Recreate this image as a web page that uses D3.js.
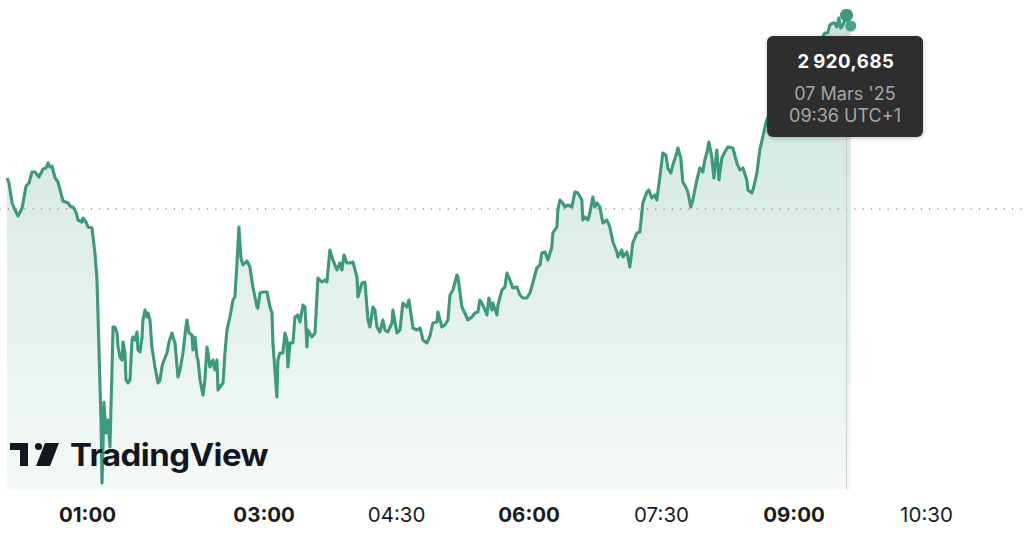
<!DOCTYPE html>
<html>
<head>
<meta charset="utf-8">
<script src="https://cdn.jsdelivr.net/npm/d3@7"></script>
<style>
  html, body { margin: 0; padding: 0; background: #fff; overflow: hidden; }
  svg { display: block; font-family: Inter, "Noto Sans", sans-serif; }
</style>
</head>
<body>
<svg id="chart" width="1024" height="541"></svg>
<script>
// minutes since 00:00 on 07 Mar 2025 (UTC+1)
const minutes = [
  5.7, 7.0, 9.1, 11.1, 13.1, 15.9, 18.6, 20.6, 22.6, 24.7,
  27.4, 30.1, 32.2, 33.5, 34.9, 36.2, 38.3, 40.3, 41.7, 43.7,
  47.1, 49.1, 50.5, 52.5, 53.9, 56.6, 57.3, 59.3, 60.7, 63.4,
  64.1, 65.4, 66.8, 68.2, 69.5, 70.2, 70.9, 71.5, 72.9, 74.3,
  75.6, 77.7, 79.0, 80.4, 81.1, 82.4, 83.8, 84.5, 85.8, 86.5,
  87.8, 89.2, 90.6, 91.2, 92.6, 94.0, 94.6, 96.0, 97.4, 98.0,
  99.4, 100.8, 101.4, 102.8, 104.1, 106.2, 108.2, 109.6, 110.9, 111.6,
  114.3, 115.7, 117.7, 118.4, 119.8, 121.8, 123.2, 125.2, 127.2, 127.9,
  129.3, 131.3, 132.0, 133.4, 134.7, 135.4, 136.8, 138.8, 140.1, 141.5,
  142.2, 143.5, 145.6, 146.9, 148.3, 149.0, 150.3, 152.4, 153.7, 155.1,
  157.1, 159.2, 160.5, 161.9, 163.2, 164.6, 166.0, 168.7, 170.7, 172.7,
  175.5, 176.1, 177.5, 179.5, 182.3, 184.3, 185.7, 186.3, 189.0, 189.7,
  191.1, 193.1, 194.5, 195.8, 196.5, 197.9, 199.9, 201.3, 203.3, 204.7,
  206.7, 208.1, 209.4, 210.1, 212.8, 214.9, 216.9, 219.6, 221.7, 223.0,
  225.0, 227.1, 229.8, 231.8, 233.2, 234.6, 236.6, 238.6, 240.7, 243.4,
  244.1, 246.8, 248.8, 250.9, 252.2, 254.3, 255.6, 257.0, 259.0, 261.0,
  262.4, 264.4, 267.2, 267.8, 270.6, 272.6, 274.6, 277.3, 278.7, 280.7,
  281.4, 284.1, 286.2, 287.5, 288.2, 290.9, 293.0, 295.0, 297.7, 298.4,
  301.1, 303.2, 305.2, 306.6, 308.6, 311.3, 312.0, 314.7, 316.7, 318.8,
  321.5, 323.5, 325.6, 326.9, 329.0, 331.7, 333.0, 335.1, 335.8, 338.5,
  339.2, 341.9, 343.9, 345.3, 347.3, 349.3, 352.1, 354.1, 356.1, 358.8,
  360.9, 362.9, 365.6, 367.7, 369.0, 371.1, 373.1, 375.8, 376.5, 379.2,
  379.9, 381.3, 383.3, 384.7, 386.7, 389.4, 391.5, 393.5, 396.2, 396.9,
  398.2, 400.3, 401.6, 403.7, 405.0, 406.4, 408.4, 410.5, 413.2, 415.2,
  417.3, 420.0, 420.7, 423.4, 424.1, 426.8, 428.8, 430.8, 433.6, 435.6,
  437.6, 440.4, 441.7, 443.7, 445.8, 447.1, 449.2, 451.2, 453.3, 454.6,
  456.7, 458.0, 460.7, 461.4, 463.4, 464.8, 466.8, 468.2, 470.2, 471.6,
  474.3, 476.4, 478.4, 479.7, 481.1, 482.5, 484.5, 485.9, 487.9, 489.3,
  491.3, 493.3, 495.4, 498.8, 501.5, 503.5, 505.6, 508.3, 509.0, 511.7,
  513.0, 515.1, 517.1, 519.1, 521.2, 523.9, 527.3, 530.7, 534.8, 538.8,
  542.9, 547.0, 551.1, 555.1, 559.2, 561.3, 563.3, 564.6, 566.7, 568.0,
  569.4, 570.8, 572.1, 573.5, 576.0, 577.4, 578.9
];

const prices = [
  2904.4, 2903.9, 2901.9, 2901.2, 2900.6, 2901.4, 2903.6, 2903.9, 2905.0, 2905.0,
  2904.5, 2905.3, 2905.4, 2905.9, 2905.5, 2905.6, 2904.4, 2904.0, 2903.2, 2902.1,
  2901.9, 2901.5, 2901.5, 2901.0, 2900.2, 2900.0, 2900.4, 2900.0, 2899.5, 2899.4,
  2898.5, 2896.9, 2894.2, 2886.9, 2880.2, 2873.9, 2877.5, 2882.0, 2878.9, 2880.2,
  2877.5, 2889.5, 2889.5, 2888.9, 2887.5, 2886.5, 2886.2, 2888.0, 2886.9, 2884.2,
  2883.9, 2884.2, 2888.2, 2888.5, 2888.2, 2889.0, 2887.2, 2887.0, 2888.5, 2890.2,
  2891.2, 2890.5, 2890.9, 2890.2, 2887.5, 2885.5, 2883.9, 2884.2, 2885.5, 2885.9,
  2886.9, 2888.0, 2888.9, 2888.5, 2887.9, 2884.5, 2885.2, 2886.9, 2889.5, 2890.2,
  2888.9, 2888.7, 2887.2, 2888.5, 2886.5, 2886.2, 2884.2, 2882.7, 2884.2, 2887.5,
  2886.9, 2885.5, 2886.2, 2885.2, 2886.2, 2883.2, 2883.5, 2883.9, 2886.9, 2889.2,
  2890.5, 2892.2, 2892.5, 2895.9, 2899.5, 2896.4, 2895.7, 2896.1, 2895.5, 2893.5,
  2891.5, 2891.4, 2892.9, 2893.0, 2893.0, 2891.5, 2890.9, 2887.9, 2882.5, 2886.2,
  2886.9, 2886.9, 2888.9, 2888.2, 2885.5, 2887.9, 2887.9, 2890.5, 2890.7, 2890.0,
  2891.7, 2891.5, 2887.5, 2889.2, 2888.5, 2888.9, 2894.4, 2894.0, 2894.2, 2894.0,
  2897.2, 2896.2, 2895.2, 2895.9, 2895.2, 2896.7, 2895.9, 2895.9, 2896.0, 2894.5,
  2892.5, 2893.9, 2894.0, 2890.2, 2889.5, 2891.5, 2891.2, 2889.5, 2889.0, 2890.2,
  2889.2, 2889.0, 2889.9, 2891.2, 2888.9, 2889.2, 2891.9, 2891.5, 2892.2, 2890.2,
  2889.4, 2889.2, 2889.4, 2888.7, 2888.2, 2887.9, 2888.6, 2889.9, 2890.0, 2891.0,
  2889.5, 2889.7, 2890.2, 2892.7, 2893.2, 2894.7, 2894.5, 2891.5, 2890.9, 2890.2,
  2890.5, 2890.9, 2891.0, 2892.2, 2891.7, 2890.7, 2892.4, 2891.2, 2891.9, 2890.7,
  2891.7, 2893.2, 2893.5, 2894.9, 2894.2, 2893.4, 2893.5, 2892.7, 2892.4, 2892.4,
  2892.9, 2893.9, 2895.4, 2895.7, 2896.9, 2897.0, 2896.2, 2897.5, 2898.9, 2899.5,
  2901.2, 2902.2, 2901.9, 2901.5, 2901.7, 2901.5, 2903.0, 2902.9, 2902.2, 2900.2,
  2900.5, 2900.2, 2900.9, 2902.5, 2901.5, 2901.9, 2901.5, 2899.9, 2900.2, 2899.5,
  2898.0, 2897.0, 2896.5, 2897.2, 2896.5, 2897.0, 2895.5, 2897.9, 2898.9, 2899.0,
  2901.9, 2903.0, 2903.2, 2902.4, 2902.7, 2902.2, 2904.5, 2906.9, 2906.7, 2905.4,
  2904.9, 2905.7, 2906.9, 2907.4, 2906.4, 2904.0, 2903.5, 2903.0, 2901.5, 2902.2,
  2904.2, 2905.4, 2905.0, 2906.2, 2906.9, 2908.0, 2906.5, 2904.4, 2907.2, 2904.2,
  2906.4, 2907.0, 2907.5, 2907.4, 2905.9, 2905.2, 2905.4, 2904.2, 2903.2, 2902.9,
  2903.5, 2904.9, 2907.2, 2908.5, 2909.9, 2911.0, 2912.2, 2913.0, 2913.7, 2914.4,
  2915.2, 2916.2, 2917.0, 2917.7, 2918.4, 2918.9, 2918.9, 2919.7, 2919.9, 2919.9,
  2919.5, 2920.4, 2919.4, 2919.7, 2920.685, 2920.0, 2919.6
];

const prevClose = 2901.3;
const tickLabels = ["01:00", "03:00", "04:30", "06:00", "07:30", "09:00", "10:30"];

const hoverTime = "09:36";
const hoverValue = 2920.685;
const tooltipLines = ["2\u2009920,685", "07 Mars '25", "09:36 UTC+1"];

const lineColor = "#3d997e";
const width = 1024, height = 541;
const plotBottom = 490;

const day = new Date(2025, 2, 7);
const toDate = (m) => new Date(day.getTime() + m * 60000);
const parseHM = (s) => {
    const [h, mm] = s.split(":").map(Number);
    return toDate(h * 60 + mm);
};

const data = minutes.map((m, i) => ({ t: toDate(m), v: prices[i] }));

const svg = d3.select("#chart");

// Scales
const xScale = d3.scaleTime()
    .domain([parseHM("01:00"), parseHM("10:30")])
    .range([87, 926]);

const yScale = d3.scaleLinear()
    .domain([2872.2, 2922.2])
    .range([500, 0]);

// Area gradient
const defs = svg.append("defs");
const grad = defs.append("linearGradient")
    .attr("id", "areaFill")
    .attr("gradientUnits", "userSpaceOnUse")
    .attr("x1", 0).attr("y1", 0)
    .attr("x2", 0).attr("y2", plotBottom);
grad.append("stop").attr("offset", "0%").attr("stop-color", lineColor).attr("stop-opacity", 0.28);
grad.append("stop").attr("offset", "100%").attr("stop-color", lineColor).attr("stop-opacity", 0.05);

const shadow = defs.append("filter").attr("id", "tipShadow")
    .attr("x", "-20%").attr("y", "-20%").attr("width", "140%").attr("height", "150%");
shadow.append("feDropShadow")
    .attr("dx", 0).attr("dy", 1).attr("stdDeviation", 2)
    .attr("flood-color", "#000").attr("flood-opacity", 0.25);

const area = d3.area()
    .x((d) => xScale(d.t))
    .y0(plotBottom)
    .y1((d) => yScale(d.v));

const line = d3.line()
    .x((d) => xScale(d.t))
    .y((d) => yScale(d.v));

svg.append("path")
    .datum(data)
    .attr("d", area)
    .attr("fill", "url(#areaFill)");

// Previous close dotted line
svg.append("line")
    .attr("x1", 0).attr("x2", width)
    .attr("y1", yScale(prevClose)).attr("y2", yScale(prevClose))
    .attr("stroke", "#8a8a8a")
    .attr("stroke-width", 1.4)
    .attr("stroke-linecap", "round")
    .attr("stroke-dasharray", "0.1,8.2");

// Price line
svg.append("path")
    .datum(data)
    .attr("d", line)
    .attr("fill", "none")
    .attr("stroke", lineColor)
    .attr("stroke-width", 3.1)
    .attr("stroke-linejoin", "round");

// Crosshair
const hx = xScale(parseHM(hoverTime));
svg.append("line")
    .attr("x1", hx).attr("x2", hx)
    .attr("y1", yScale(hoverValue)).attr("y2", plotBottom)
    .attr("stroke", "#c9cccb")
    .attr("stroke-width", 1);

// X axis
const xAxis = d3.axisBottom(xScale)
    .tickValues(tickLabels.map(parseHM))
    .tickFormat(d3.timeFormat("%H:%M"))
    .tickSize(0)
    .tickPadding(0);

const gx = svg.append("g")
    .attr("transform", `translate(0, 522)`)
    .call(xAxis);
gx.select(".domain").remove();
gx.selectAll("text")
    .attr("dy", null)
    .attr("y", 0)
    .attr("fill", "#1b1b1b")
    .style("font-family", "Inter, 'Noto Sans', sans-serif")
    .style("font-size", "20.5px")
    .style("font-weight", (d) => d.getMinutes() === 0 ? 700 : 400);

// TradingView logo
const logo = svg.append("g").attr("fill", "#131722");
logo.append("path").attr("d", "M10,443 H28 V466 H20 V450 H10 Z");
logo.append("circle").attr("cx", 38.5).attr("cy", 446.5).attr("r", 3.6);
logo.append("path").attr("d", "M45,443 H59 L50,466 H36 Z");
logo.append("text")
    .attr("x", 70).attr("y", 466)
    .attr("textLength", 198)
    .attr("lengthAdjust", "spacingAndGlyphs")
    .style("font-family", "Inter, 'Noto Sans', sans-serif")
    .style("font-size", "31px")
    .style("font-weight", 700)
    .style("letter-spacing", "-0.5px")
    .text("TradingView");

// Tooltip
const tip = svg.append("g");
tip.append("rect")
    .attr("x", 767).attr("y", 36)
    .attr("width", 156).attr("height", 101)
    .attr("rx", 6)
    .attr("fill", "#2f2f2f")
    .attr("filter", "url(#tipShadow)");
tip.append("text")
    .attr("x", 846).attr("y", 68)
    .attr("text-anchor", "middle")
    .attr("fill", "#ffffff")
    .style("font-size", "18.5px")
    .style("font-weight", 700)
    .style("letter-spacing", "0.6px")
    .text(tooltipLines[0]);
tip.append("text")
    .attr("x", 845).attr("y", 100)
    .attr("text-anchor", "middle")
    .attr("fill", "#a6a6a6")
    .style("font-size", "18px")
    .text(tooltipLines[1]);
tip.append("text")
    .attr("x", 845).attr("y", 122)
    .attr("text-anchor", "middle")
    .attr("fill", "#a6a6a6")
    .style("font-size", "18px")
    .text(tooltipLines[2]);

// Hover marker and last price marker
const last = data[data.length - 1];
svg.append("circle")
    .attr("cx", xScale(last.t)).attr("cy", yScale(last.v))
    .attr("r", 5.5)
    .attr("fill", "#4aa488");
svg.append("circle")
    .attr("cx", hx).attr("cy", yScale(hoverValue))
    .attr("r", 6.5)
    .attr("fill", lineColor);
</script>
</body>
</html>
